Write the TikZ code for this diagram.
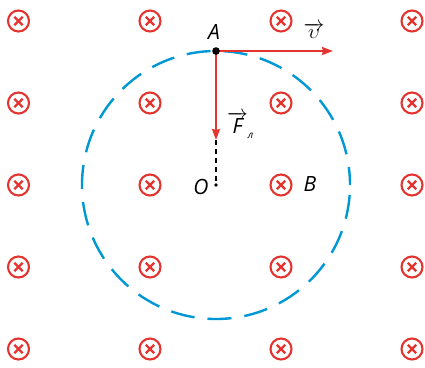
\documentclass[tikz,border=0pt]{standalone}
\usepackage{fontspec}
\setmainfont{Open Sans}
\usetikzlibrary{arrows.meta}
\definecolor{fieldred}{RGB}{228,52,48}
\definecolor{pathblue}{RGB}{0,152,212}

\begin{document}
\begin{tikzpicture}[x=1pt,y=-1pt,
  bring/.style={fieldred, line width=2.1pt},
  bcross/.style={fieldred, line width=2.4pt},
  force/.style={fieldred, line width=2pt, -{Stealth[length=11pt,width=8pt,inset=1pt]}},
  lbl/.style={font=\fontsize{21}{21}\selectfont\itshape, inner sep=0pt}]
\def\cx{216}
\def\cy{185}
\def\r{134}
\useasboundingbox (0,0) rectangle (425,367);

% magnetic field into the page
\foreach \x in {18.5,150,281,412}
  \foreach \y in {21,103,185,267,349} {
    \draw[bring] (\x,\y) circle (10.5pt);
    \draw[bcross] (\x-4.2,\y-4.2) -- (\x+4.2,\y+4.2);
    \draw[bcross] (\x-4.2,\y+4.2) -- (\x+4.2,\y-4.2);
  }

\coordinate (O) at (\cx,\cy);
\coordinate (A) at (\cx,\cy-\r);
\coordinate (V) at (333,\cy-\r);
\coordinate (F) at (\cx,140);

\draw[pathblue, line width=2.4pt, dash pattern=on 24pt off 13pt, dash phase=6pt] (O) circle (\r pt);

\draw[black, line width=1.1pt, dash pattern=on 5pt off 4pt] (F) -- (O);
\draw[force] (A) -- (V);
\draw[force] (A) -- (F);

\fill[black] (A) circle (3.8pt);
\fill[black] (O) circle (1.8pt);

\node[lbl] (lA) at (214,32) {A};
\node[lbl] (lO) at (201,187) {O};
\node[lbl] (lB) at (310,184) {B};
\node[lbl] (lV) at (314,31) {$\overrightarrow{\upsilon}$};
\node[lbl, anchor=west] (lF) at (227,125) {$\overrightarrow{\mbox{\itshape F}}$\raisebox{-5pt}{\fontsize{10}{10}\selectfont л}};
\end{tikzpicture}
\end{document}
